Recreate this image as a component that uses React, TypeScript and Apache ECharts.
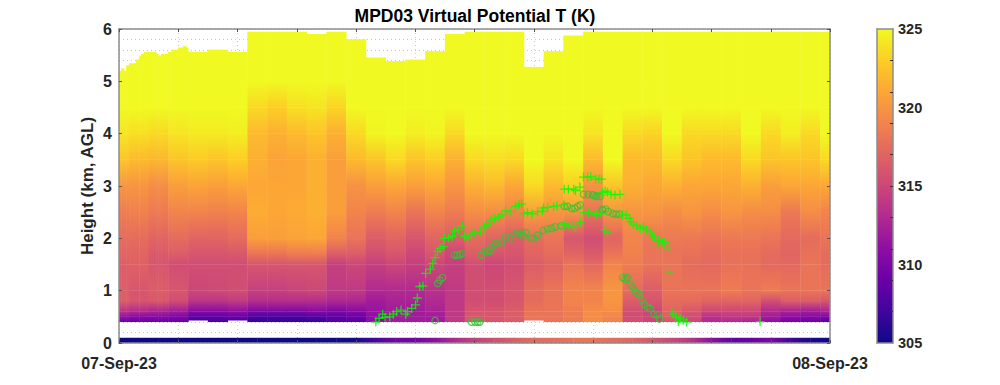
import React, { useEffect, useRef } from "react";
import * as echarts from "echarts";

const plasmaColors = ["#0d0887","#41049d","#6a00a8","#8f0da4","#b12a90","#cc4778","#e16462","#f2844b","#fca636","#fcce25","#f0f921"];
const colorMin = 305;
const colorMax = 325;
const heightKnots = [0.4,0.5,0.6,0.8,1,1.5,1.7,2,2.5,3,3.5,4,4.5,5];
const columnEdges = [0,0.333,1,1.667,2.333,3,3.667,4.333,5,5.667,6.333,7,7.667,8.333,9,9.667,10.333,11,11.667,12.333,13,13.667,14.333,15,15.667,16.333,17,17.667,18.333,19,19.667,20.333,21,21.667,22.333,23,23.667,24];
const profiles = [
[309,311,313.5,316.5,316.5,316.5,317,317.5,318.5,320,322.5,324,325,325],
[309,310.5,313,316,316,316.8,317,317.5,318.8,320,322,323.8,325,325],
[309,310.5,312.5,316.2,316.5,316,316.3,317,318.4,319.5,321.8,323.5,325,325],
[309,310,312,315.5,316,315.5,316.5,317.5,319,320.5,322.5,324,325,325],
[307,308.5,310.5,313.8,315,315.5,316,317,319,320.8,322.8,324.3,325,325],
[307.3,308.5,310.5,313.8,315.2,315.5,316,317,318.8,320.5,322.5,324.3,325,325],
[307.5,309,311,314.2,315.5,315.5,316.2,317.5,319,321,323,324.5,325,325],
[306.5,307.5,310,313.3,314.5,316,318,320.5,321.3,321,321.5,322,323.5,325],
[306.5,307.5,310,313.3,314.5,316,318,320.5,321,321,320.8,321.5,323,325],
[306.5,307.5,310,313.3,314.8,316,318.5,320.8,321.2,321,321,322,323.8,325],
[306.5,308,310.5,313.3,315,316,318.5,321,321.5,321.5,321.5,322.5,324,325],
[307.5,308.5,310,312.8,314,314.5,316.5,319,320.5,320.5,320.5,321.5,323.3,325],
[308,309,310.5,312.8,314,315,316.5,318,319,319.8,322,323.5,325,325],
[311,311,311.5,312,313,314.5,315.5,316.5,318.5,320.5,322.5,324.8,325,325],
[312,312,312,312.5,313,315,316,317,319,321,323.5,325,325,325],
[312,312,312,312.5,313,314.5,315,316,318,320.5,322.5,324.5,325,325],
[312,312,312.5,313,313.5,315,316,317,319,321,323,324.8,325,325],
[314,314,314,314,314,314.5,315,316.5,318.5,320,321.5,323.5,325,325],
[316,316,316,315.5,315.5,315.5,316.5,317.5,319.5,321.5,323.5,325,325,325],
[316,316,316,315.5,315.5,315,316,317,319.5,322,323.8,325,325,325],
[316.5,316.5,316.5,316,316,315.5,316,316.5,319,321,323.5,325,325,325],
[318,318,318,317.5,317.5,316.5,317,317.5,320.5,323.5,325,325,325,325],
[318,318,318,318,318,317,317.5,318,320,322,324,325,325,325],
[318.5,318.5,318.5,319,319,318,317,316,320,323,325,325,325,325],
[319.5,319.5,319.5,319,319,317.3,316.3,315.5,318,319.8,322,324,325,325],
[319,319,319.5,320,320,319,318,317,320,322.5,325,325,325,325],
[315.5,315.5,315.5,316.5,317.5,318.5,318.8,319,320,321.5,322,323.5,325,325],
[315,315,315,316,316.5,318,318,318.2,320,321,322,323.2,325,325],
[316,316.5,317,317.5,318,318,318,318.3,319.5,321.5,323.5,325,325,325],
[315,315.5,316,317.5,318,317.5,317.8,318.3,320,321,322.5,323.5,325,325],
[313,313.5,315,317,318,317.3,317.5,318,319.5,321,322,323.5,325,325],
[313,314,315,317,318.5,317.8,317.8,318.3,320,321,322,323.5,325,325],
[312.5,314,315,317,318,317.8,317.8,318.3,319.5,321.5,323.5,325,325,325],
[311,312,313,315.5,318.5,317.3,317.5,318,319.5,320.5,322.5,323.5,325,325],
[309.5,311,312.5,316.5,318,317.3,317,317.3,318.3,321,322.5,324.5,325,325],
[309,310.5,312,316.5,318,318,317.8,317.5,319.5,321,322.5,323.5,325,325],
[308,310,312.5,316,318,317.5,317.5,318,319,321,323.5,325,325,325],
];
const raisedBottomHours = [[2.333,3],[3.667,4.333],[13.667,14.333]];
const baseBottom = 0.4;
const raisedBottom = 0.43;
const topStepEnds = [0.07,0.17,0.24,0.34,0.57,0.68,0.74,0.84,1.25,1.32,1.42,1.65,1.79,1.99,2.16,2.26,2.33,3,3.667,4.333,6.333,7,7.667,8.333,9,9.667,10.333,11,11.667,13.667,14.333,15,15.667,24];
const topStepHeights = [5.19,5.24,5.19,5.3,5.34,5.41,5.48,5.52,5.56,5.52,5.49,5.52,5.56,5.6,5.64,5.67,5.64,5.56,5.6,5.56,5.94,5.9,5.94,5.8,5.45,5.38,5.41,5.57,5.9,5.94,5.27,5.57,5.87,5.94];
const surfaceBandTop = 0.1;
const surfaceValues = [305,305,305,305,305,305,305,305,305,305,305,305,305.5,307.5,309.5,309.5,311,313,314.5,315.5,316.5,317.5,317.5,318,318,317.5,317,316,315,313.5,311,308.5,309,310,307,305.5,305];
const plusPoints = [
[8.67,0.40],[8.78,0.47],[8.90,0.55],[8.98,0.49],[9.14,0.50],[9.26,0.55],[9.37,0.60],[9.52,0.63],[9.68,0.55],[9.74,0.60],[9.88,0.66],[10.01,0.73],[10.07,0.86],[10.15,1.08],[10.26,1.09],[10.35,1.33],[10.51,1.41],[10.59,1.52],[10.67,1.63],[10.75,1.75],[10.84,1.81],[10.95,1.84],[10.98,2.0],[11.12,2.01],[11.25,2.04],[11.32,2.14],[11.45,2.16],[11.59,2.24],[11.66,2.04],[11.77,2.01],[11.90,2.08],[12.02,2.11],[12.20,2.13],[12.33,2.22],[12.44,2.26],[12.56,2.35],[12.69,2.38],[12.83,2.41],[12.92,2.45],[13.05,2.53],[13.23,2.51],[13.39,2.61],[13.50,2.64],[13.59,2.66],[13.66,2.47],[13.79,2.49],[13.95,2.47],[14.13,2.51],[14.29,2.52],[14.33,2.58],[14.47,2.59],[14.67,2.61],[14.78,2.62],[15.01,2.64],
[15.03,2.94],[15.17,2.94],[15.35,2.94],[15.41,2.91],[15.56,2.98],[15.68,3.17],[15.82,3.17],[15.93,3.18],[16.09,3.13],[16.20,3.13],[16.29,3.13],
[15.03,2.26],[15.19,2.24],[15.33,2.24],[15.41,2.21],[15.57,2.31],[15.68,2.49],[15.84,2.49],[16.02,2.47],[16.11,2.46],[16.27,2.47],
[16.33,2.88],[16.41,2.90],[16.49,2.88],[16.61,2.84],[16.74,2.83],[16.91,2.84],[16.41,2.16],[16.49,2.12],
[17.0,2.45],[17.12,2.45],[17.22,2.38],[17.28,2.32],[17.36,2.27],[17.48,2.24],[17.59,2.19],[17.70,2.22],[17.81,2.16],[17.93,2.13],[18.0,2.05],[18.07,2.02],[18.21,1.96],[18.35,1.94],[18.43,1.92],[18.24,1.86],[18.52,1.82],[18.58,1.36],
[18.66,0.60],[18.71,0.55],[18.80,0.50],[18.94,0.47],[18.88,0.41],[19.05,0.44],[19.16,0.40],[21.64,0.41],
];
const circlePoints = [
[10.67,0.43],[10.76,1.14],[10.83,1.20],[10.92,1.25],[11.32,1.68],[11.42,1.68],[11.51,1.69],[11.59,1.71],[11.90,0.40],[12.02,0.40],[12.11,0.40],[12.18,0.40],[12.22,1.68],[12.33,1.76],[12.44,1.75],[12.54,1.76],[12.56,1.83],[12.69,1.90],[12.80,1.92],[12.92,1.92],[13.05,2.03],[13.2,2.0],[13.34,2.08],[13.45,2.11],[13.59,2.11],[13.73,2.11],[13.65,2.04],[13.91,2.0],[14.01,2.0],[14.13,2.06],[14.32,2.15],[14.47,2.18],[14.60,2.19],[14.72,2.22],[14.92,2.24],[15.03,2.61],[15.14,2.61],[15.28,2.57],[15.39,2.57],[15.48,2.61],[15.57,2.64],[15.68,2.84],[15.84,2.84],[15.98,2.83],[16.09,2.80],[16.24,2.80],[16.31,2.55],
[16.01,2.83],[16.13,2.81],[16.33,2.54],[16.43,2.56],[16.52,2.51],[16.67,2.47],[16.78,2.46],[16.89,2.46],[17.0,1.25],[17.08,1.22],[17.16,1.25],[17.27,1.11],[17.34,1.06],[17.42,0.99],[17.53,0.95],[17.59,0.92],[17.67,0.82],[17.73,0.74],[17.84,0.69],[17.93,0.66],[18.06,0.55],[18.18,0.54],[18.24,0.46],
];
const colorbarLabelValues = [305,310,315,320,325];
const colorbarTickValues = [307,309,311,313,315,317,319,321,323];
const dateLabels = ["07-Sep-23","08-Sep-23"];
const titleText = "MPD03 Virtual Potential T (K)";
const yAxisTitle = "Height (km, AGL)";

const FONT = "'Liberation Sans', Arial, sans-serif";
const INK = "#262626";
const FRAME = "#8c8c8c";

function hexToRgb(hex: string) {
  return [1, 3, 5].map((i) => parseInt(hex.slice(i, i + 2), 16));
}
const plasmaRgb = plasmaColors.map(hexToRgb);
function colorOf(v: number) {
  const t = Math.min(1, Math.max(0, (v - colorMin) / (colorMax - colorMin))) * (plasmaRgb.length - 1);
  const i = Math.min(plasmaRgb.length - 2, Math.floor(t));
  const f = t - i;
  const c = plasmaRgb[i].map((a, k) => Math.round(a + (plasmaRgb[i + 1][k] - a) * f));
  return `rgb(${c[0]},${c[1]},${c[2]})`;
}

function topAt(hour: number) {
  const i = topStepEnds.findIndex((e) => hour < e);
  return topStepHeights[i < 0 ? topStepHeights.length - 1 : i];
}
function columnAt(hour: number) {
  for (let i = 0; i < columnEdges.length - 1; i++) if (hour < columnEdges[i + 1]) return i;
  return columnEdges.length - 2;
}
function bottomAt(hour: number) {
  return raisedBottomHours.some(([a, b]) => hour >= a && hour < b) ? raisedBottom : baseBottom;
}

function buildCells() {
  const edges = Array.from(new Set([...columnEdges, ...topStepEnds])).sort((a, b) => a - b);
  const cells: number[][] = [];
  for (let s = 0; s < edges.length - 1; s++) {
    const t0 = edges[s];
    const t1 = edges[s + 1];
    const mid = (t0 + t1) / 2;
    const p = profiles[columnAt(mid)];
    const top = topAt(mid);
    const bottom = bottomAt(mid);
    for (let j = 0; j < heightKnots.length; j++) {
      const lo = Math.max(bottom, heightKnots[j]);
      const hi = Math.min(top, j + 1 < heightKnots.length ? heightKnots[j + 1] : top);
      if (hi <= lo) continue;
      const vHi = j + 1 < p.length ? p[j + 1] : p[j];
      cells.push([t0, t1, lo, hi, p[j], vHi, 0]);
    }
  }
  for (let i = 0; i < surfaceValues.length - 1; i++) {
    const step = 24 / (surfaceValues.length - 1);
    cells.push([i * step, (i + 1) * step, 0, surfaceBandTop, surfaceValues[i], surfaceValues[i + 1], 1]);
  }
  return cells;
}

function renderCell(_: any, api: any) {
  const a = api.coord([api.value(0), api.value(3)]);
  const b = api.coord([api.value(1), api.value(2)]);
  const horizontal = api.value(6) === 1;
  const fill = horizontal
    ? new echarts.graphic.LinearGradient(0, 0, 1, 0, [
        { offset: 0, color: colorOf(api.value(4)) },
        { offset: 1, color: colorOf(api.value(5)) },
      ])
    : new echarts.graphic.LinearGradient(0, 1, 0, 0, [
        { offset: 0, color: colorOf(api.value(4)) },
        { offset: 1, color: colorOf(api.value(5)) },
      ]);
  return {
    type: "rect",
    shape: { x: a[0], y: a[1] - (horizontal ? 0 : 0.3), width: b[0] - a[0] + 0.4, height: b[1] - a[1] + (horizontal ? 0 : 0.3) },
    style: { fill },
    silent: true,
  };
}

function renderColorbar(_: any, api: any) {
  const a = api.coord([0, colorMax]);
  const b = api.coord([1, colorMin]);
  return {
    type: "rect",
    shape: { x: a[0], y: a[1], width: b[0] - a[0], height: b[1] - a[1] },
    style: {
      fill: new echarts.graphic.LinearGradient(
        0, 1, 0, 0,
        plasmaColors.map((color, i) => ({ offset: i / (plasmaColors.length - 1), color }))
      ),
    },
  };
}

const plusSymbol = "path://M0 5H10M5 0V10";

export default function App() {
  const ref = useRef<HTMLDivElement>(null);
  useEffect(() => {
    const chart = echarts.init(ref.current!, undefined, { renderer: "svg" });
    const labelStyle = { color: INK, fontFamily: FONT, fontWeight: "bold" as const, fontSize: 16 };
    const xBase = { type: "value" as const, min: 0, max: 24, interval: 2, gridIndex: 0 };
    const yBase = { type: "value" as const, min: 0, max: 6, interval: 1, gridIndex: 0 };
    const frameLine = { show: true, onZero: false, lineStyle: { color: FRAME, width: 1.5 } };
    const tick = { show: true, inside: true, length: 3, lineStyle: { color: "#555", width: 1 } };
    const dotted = { show: true, lineStyle: { color: "#c8c8c8", type: [1, 3] as any, width: 1 } };
    chart.setOption({
      animation: false,
      backgroundColor: "#fff",
      title: {
        text: titleText,
        left: 470,
        top: 2,
        textAlign: "center",
        textStyle: { color: "#000", fontFamily: FONT, fontWeight: "bold", fontSize: 17.5 },
      },
      grid: [
        { left: 119, top: 29, width: 711, height: 314 },
        { left: 877, top: 29, width: 16, height: 314 },
      ],
      xAxis: [
        { ...xBase, position: "bottom", axisLine: { show: false }, axisTick: { show: false }, axisLabel: { show: false }, splitLine: dotted },
        {
          ...xBase, position: "bottom", z: 10, axisLine: frameLine, axisTick: tick, splitLine: { show: false },
          axisLabel: {
            ...labelStyle, margin: 12, showMinLabel: true, showMaxLabel: true, hideOverlap: false,
            formatter: (v: number) => (v === 0 ? dateLabels[0] : v === 24 ? dateLabels[1] : ""),
          },
        },
        { ...xBase, position: "top", z: 10, axisLine: frameLine, axisTick: tick, axisLabel: { show: false }, splitLine: { show: false } },
        { type: "value", gridIndex: 1, min: 0, max: 1, position: "top", z: 10, axisLine: frameLine, axisTick: { show: false }, axisLabel: { show: false }, splitLine: { show: false } },
        { type: "value", gridIndex: 1, min: 0, max: 1, position: "bottom", z: 10, axisLine: frameLine, axisTick: { show: false }, axisLabel: { show: false }, splitLine: { show: false } },
      ],
      yAxis: [
        {
          ...yBase, position: "left", axisLine: { show: false }, axisTick: { show: false }, axisLabel: { show: false },
          splitLine: dotted,
          minorTick: { show: false, splitNumber: 5 },
          minorSplitLine: { show: true, lineStyle: { color: "#c8c8c8", type: [1, 3] as any, width: 1 } },
        },
        {
          ...yBase, position: "left", z: 10, axisLine: frameLine, axisTick: tick, splitLine: { show: false },
          axisLabel: { ...labelStyle, margin: 7 },
          name: yAxisTitle, nameLocation: "middle", nameRotate: 90, nameGap: 23, nameMoveOverlap: false,
          nameTextStyle: { color: INK, fontFamily: FONT, fontWeight: "bold", fontSize: 17 },
        },
        { ...yBase, position: "right", z: 10, axisLine: frameLine, axisTick: tick, axisLabel: { show: false }, splitLine: { show: false } },
        { type: "value", gridIndex: 1, min: 0, max: 1, position: "left", z: 10, axisLine: frameLine, axisTick: { show: false }, axisLabel: { show: false }, splitLine: { show: false } },
        {
          type: "value", gridIndex: 1, min: colorMin, max: colorMax, interval: 5, position: "right", z: 10,
          axisLine: frameLine,
          axisTick: { show: true, inside: true, length: 3, customValues: colorbarTickValues, lineStyle: { color: "#333", width: 1 } },
          axisLabel: { ...labelStyle, fontSize: 14.5, margin: 5, customValues: colorbarLabelValues },
          splitLine: { show: false },
        },
      ],
      series: [
        {
          type: "custom", xAxisIndex: 0, yAxisIndex: 0, z: 2, clip: true,
          renderItem: renderCell, data: buildCells(),
          encode: { x: [0, 1], y: [2, 3] }, silent: true,
        },
        {
          type: "custom", xAxisIndex: 3, yAxisIndex: 4, z: 2,
          renderItem: renderColorbar, data: [[0, colorMin]], silent: true,
        },
        {
          type: "scatter", xAxisIndex: 0, yAxisIndex: 0, z: 5, symbol: "circle", symbolSize: 6.5,
          data: circlePoints, silent: true,
          itemStyle: { color: "transparent", borderColor: "#2fc82f", borderWidth: 1.2 },
        },
        {
          type: "scatter", xAxisIndex: 0, yAxisIndex: 0, z: 6, symbol: plusSymbol, symbolSize: 9,
          data: plusPoints, silent: true,
          itemStyle: { color: "transparent", borderColor: "#00ff00", borderWidth: 1.3 },
        },
      ],
    });
    return () => chart.dispose();
  }, []);
  return <div ref={ref} style={{ position: "absolute", left: 0, top: 0, width: 1000, height: 385 }} />;
}
